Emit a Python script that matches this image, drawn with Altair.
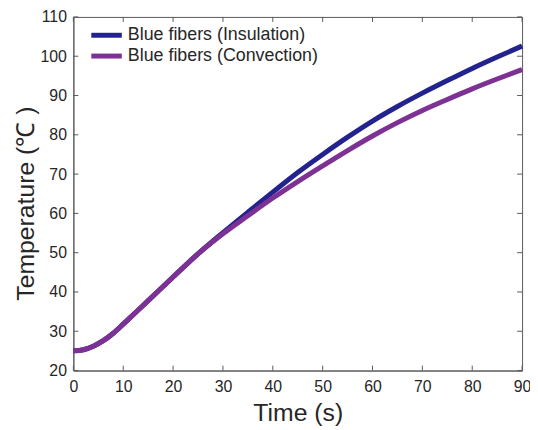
import altair as alt
import pandas as pd

# ---- data ----
time_s = [0, 2, 4, 6, 8, 10, 12, 15, 20, 25, 30, 35, 40, 45, 50, 55, 60, 65, 70, 75, 80, 85, 90]
insulation = [25.0, 25.3, 26.2, 27.6, 29.5, 31.8, 34.2, 37.8, 43.8, 49.7, 55.1, 60.3, 65.4, 70.4,
              75.0, 79.4, 83.5, 87.2, 90.6, 93.8, 96.9, 99.8, 102.6]
convection = [25.0, 25.3, 26.2, 27.6, 29.5, 31.8, 34.2, 37.8, 43.8, 49.7, 54.8, 59.4, 63.9, 68.1,
              72.1, 76.0, 79.7, 83.1, 86.2, 89.0, 91.7, 94.2, 96.6]
series_names = ["Blue fibers (Insulation)", "Blue fibers (Convection)"]
series_colors = ["#23238f", "#7d3194"]
x_ticks = [0, 10, 20, 30, 40, 50, 60, 70, 80, 90]
y_ticks = [20, 30, 40, 50, 60, 70, 80, 90, 100, 110]

W, H = 453, 357
FONT = "Liberation Sans"
TXT = "#262626"
AX = "#5a5a5a"

df = pd.concat([
    pd.DataFrame({"t": time_s, "T": insulation, "series": series_names[0]}),
    pd.DataFrame({"t": time_s, "T": convection, "series": series_names[1]}),
])
xt = pd.DataFrame({"t": x_ticks})
yt = pd.DataFrame({"T": y_ticks})

xscale = alt.Scale(domain=[0, 90], nice=False)
yscale = alt.Scale(domain=[20, 110], nice=False)
xaxis = alt.Axis(values=x_ticks, title="Time (s)", ticks=False, labelPadding=8, titlePadding=6,
                 grid=False, labelOverlap=False, labelFlush=False)
yaxis = alt.Axis(values=y_ticks, title="Temperature (℃ )", ticks=False, labelPadding=7, titlePadding=2,
                 grid=False, labelOverlap=False, labelFlush=False, titleY=188)

xenc = alt.X("t:Q", scale=xscale, axis=xaxis)
yenc = alt.Y("T:Q", scale=yscale, axis=yaxis)
color = alt.Color("series:N",
                  scale=alt.Scale(domain=series_names, range=series_colors),
                  legend=alt.Legend(title=None, orient="none", legendX=24, legendY=9,
                                    symbolType="M-2.2,0L2.2,0", symbolStrokeWidth=5, symbolSize=196,
                                    labelFontSize=18, labelFont=FONT, labelColor=TXT,
                                    labelOffset=12, rowPadding=0, padding=0, labelLimit=400))

base = alt.Chart(df).mark_line(strokeWidth=5, interpolate="monotone")
line1 = base.transform_filter(alt.datum.series == series_names[0]).encode(x=xenc, y=yenc, color=color)
line2 = base.transform_filter(alt.datum.series == series_names[1]).encode(x=xenc, y=yenc, color=color)

tick_style = dict(color=AX, strokeWidth=1)
tb = alt.Chart(xt).mark_rule(**tick_style).encode(x=xenc, y=alt.value(H), y2=alt.value(H - 5))
tt = alt.Chart(xt).mark_rule(**tick_style).encode(x=xenc, y=alt.value(0), y2=alt.value(5))
tl = alt.Chart(yt).mark_rule(**tick_style).encode(y=yenc, x=alt.value(0), x2=alt.value(5))
tr = alt.Chart(yt).mark_rule(**tick_style).encode(y=yenc, x=alt.value(W), x2=alt.value(W - 5))

chart = alt.layer(line1, line2, tb, tt, tl, tr).properties(
    width=W, height=H,
    autosize=alt.AutoSizeParams(type="none"),
    padding={"left": 66, "top": 7, "right": 8, "bottom": 58},
).configure_view(stroke=AX, strokeWidth=1).configure_axis(
    labelFont=FONT, labelFontSize=16, labelColor=TXT,
    titleFont=FONT, titleFontSize=25, titleFontWeight="normal", titleColor=TXT,
    domainColor=AX, domainWidth=1,
)

chart.save("out.html", embed_options={"renderer": "svg", "actions": False})
